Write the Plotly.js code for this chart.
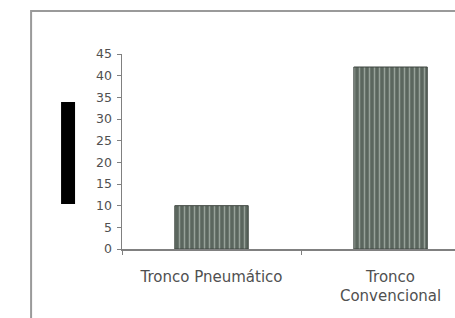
<!DOCTYPE html>
<html>
<head>
<meta charset="utf-8">
<script src="https://cdn.plot.ly/plotly-3.0.1.min.js"></script>
<style>html,body{margin:0;padding:0;background:#fff;overflow:hidden;}</style>
</head>
<body>
<div id="chart" style="width:455px;height:318px;"></div>
<script>
const categories = ["Tronco Pneumático", "Tronco Convencional"];
const tickLabels = ["Tronco Pneumático", "Tronco<br>Convencional"];
const values = [10, 42];
const yTicks = [0, 5, 10, 15, 20, 25, 30, 35, 40, 45];

const trace = {
  type: "bar",
  x: categories,
  y: values,
  width: 0.41,
  marker: {
    color: "#5d6960",
    line: {color: "#3f4741", width: 1},
    pattern: {shape: "|", bgcolor: "#5b665e", fgcolor: "#97a199", size: 5, solidity: 0.3}
  },
  hoverinfo: "skip"
};

const layout = {
  width: 455,
  height: 318,
  margin: {l: 122, r: 0, t: 54, b: 69},
  paper_bgcolor: "#ffffff",
  plot_bgcolor: "#ffffff",
  showlegend: false,
  xaxis: {
    type: "category",
    range: [-0.5, 1.36],
    tickvals: categories,
    ticktext: tickLabels,
    tickson: "boundaries",
    ticks: "outside",
    ticklen: 4,
    tickcolor: "#808080",
    showline: true,
    linecolor: "#808080",
    linewidth: 1.5,
    showgrid: false,
    zeroline: false,
    tickfont: {family: "DejaVu Sans", size: 15, color: "#505050"},
    ticklabelstandoff: 13
  },
  yaxis: {
    range: [0, 45],
    tickvals: yTicks,
    ticks: "outside",
    ticklen: 4,
    tickcolor: "#808080",
    showline: true,
    linecolor: "#808080",
    linewidth: 1.5,
    showgrid: false,
    zeroline: false,
    tickfont: {family: "DejaVu Sans", size: 12.5, color: "#505050"},
    ticklabelstandoff: 2
  },
  shapes: [
    {type: "rect", xref: "paper", yref: "paper", x0: -0.273, x1: 1.6, y0: -0.6, y1: 1.2205,
     line: {color: "#9a9a9a", width: 2}, fillcolor: "rgba(0,0,0,0)", layer: "below"},
    {type: "rect", xref: "paper", yref: "paper", x0: -0.183, x1: -0.141, y0: 0.231, y1: 0.754,
     line: {width: 0}, fillcolor: "#000000"}
  ]
};

Plotly.newPlot("chart", [trace], layout, {staticPlot: true, displayModeBar: false});
</script>
</body>
</html>
